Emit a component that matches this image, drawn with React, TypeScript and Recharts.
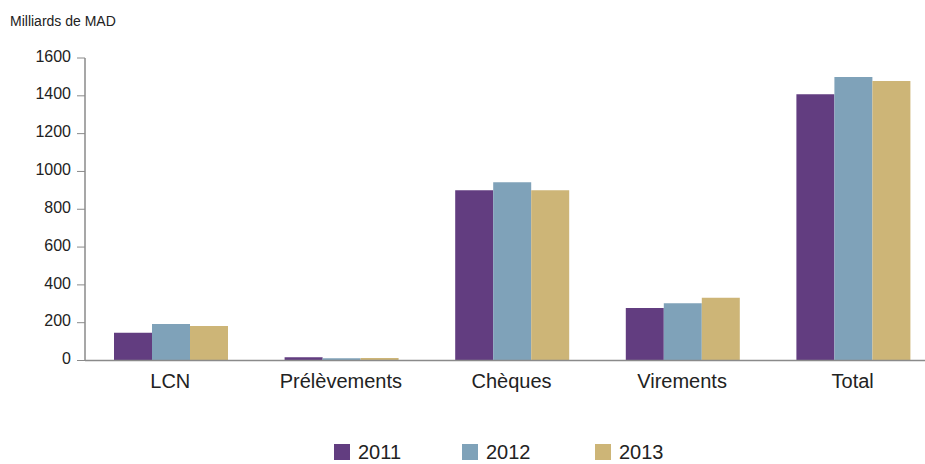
import React from "react";
import { BarChart, Bar, XAxis, YAxis } from "recharts";

const categories = ["LCN", "Prélèvements", "Chèques", "Virements", "Total"];
const values2011 = [147, 17, 900, 278, 1408];
const values2012 = [193, 12, 943, 303, 1500];
const values2013 = [183, 13, 900, 332, 1479];
const yTicks = [0, 200, 400, 600, 800, 1000, 1200, 1400, 1600];
const seriesNames = ["2011", "2012", "2013"];
const colors = ["#623D80", "#7FA2B9", "#CDB577"];

const data = categories.map((c, i) => ({
  name: c,
  "2011": values2011[i],
  "2012": values2012[i],
  "2013": values2013[i],
}));

const FONT = "'Liberation Sans', Arial, sans-serif";
const legendX = [334, 462, 595];

export default function App() {
  return (
    <div style={{ position: "fixed", left: 0, top: 0, width: 925, height: 464, overflow: "hidden", background: "#fff" }}>
      <div style={{ position: "absolute", left: 10, top: 13, fontFamily: FONT, fontSize: 14, color: "#222" }}>
        Milliards de MAD
      </div>
      <div style={{ position: "absolute", left: 0, top: 0 }}>
        <BarChart
          width={940}
          height={480}
          data={data}
          margin={{ top: 58, right: 2, bottom: 0, left: 0 }}
          barCategoryGap={29}
          barGap={0}
        >
          <XAxis
            dataKey="name"
            tickLine={false}
            tickSize={0}
            tickMargin={13}
            axisLine={{ stroke: "#8a8a8a", strokeWidth: 1.5 }}
            tick={{ fill: "#222", fontSize: 20, fontFamily: FONT }}
            height={119.5}
            interval={0}
          />
          <YAxis
            domain={[0, 1600]}
            ticks={yTicks}
            width={85}
            tickSize={8}
            tickMargin={6}
            axisLine={{ stroke: "#8a8a8a", strokeWidth: 1.5 }}
            tickLine={{ stroke: "#8a8a8a" }}
            tick={{ fill: "#222", fontSize: 16, fontFamily: FONT, dy: -2 }}
          />
          {seriesNames.map((s, i) => (
            <Bar key={s} dataKey={s} fill={colors[i]} isAnimationActive={false} />
          ))}
        </BarChart>
      </div>
      {seriesNames.map((s, i) => (
        <div
          key={s}
          style={{
            position: "absolute",
            left: legendX[i],
            top: 441,
            display: "flex",
            alignItems: "center",
            fontFamily: FONT,
            fontSize: 20,
            color: "#222",
            lineHeight: "22px",
          }}
        >
          <div style={{ width: 16, height: 16, background: colors[i], marginRight: 8 }} />
          <span>{s}</span>
        </div>
      ))}
    </div>
  );
}
